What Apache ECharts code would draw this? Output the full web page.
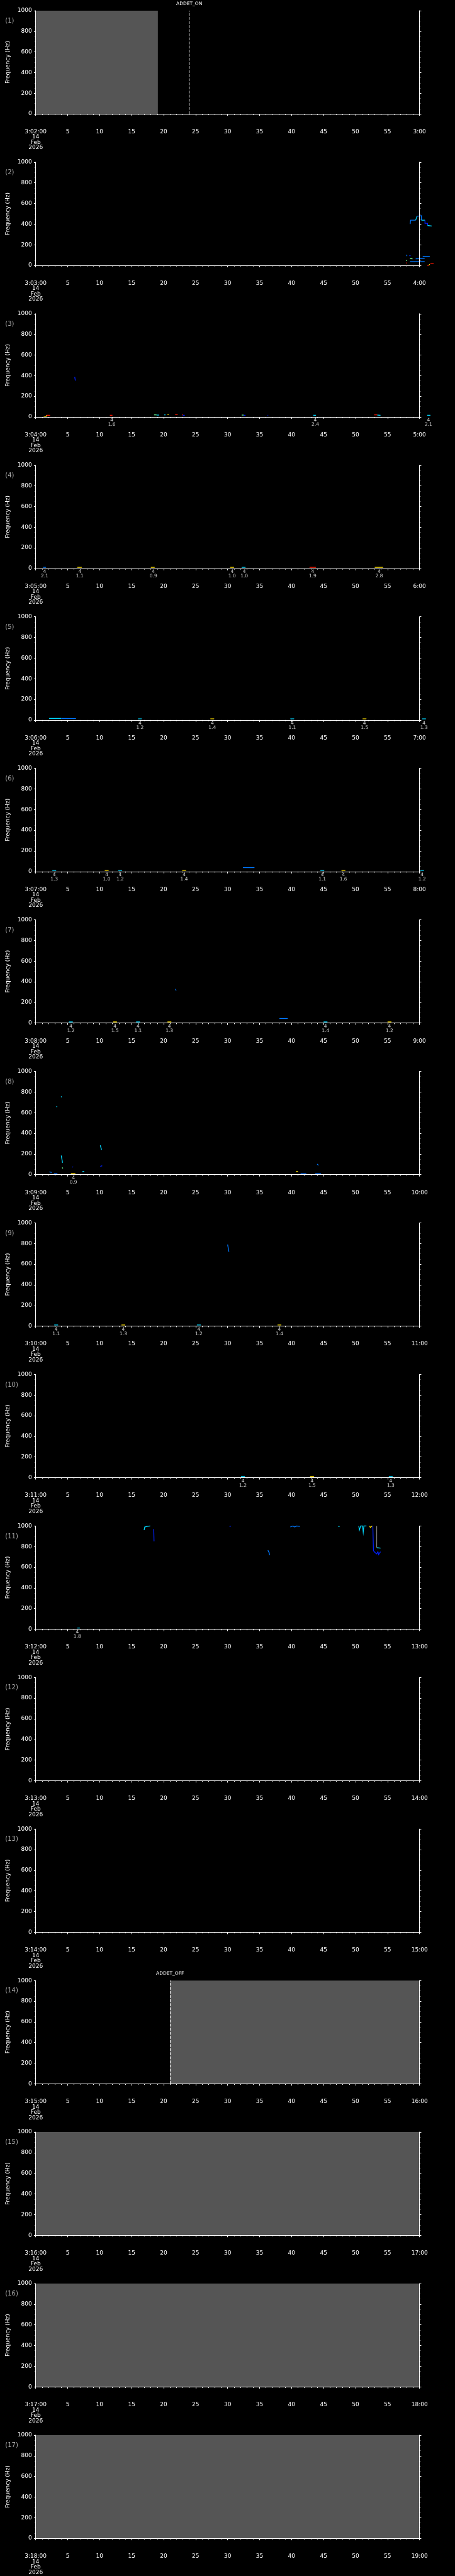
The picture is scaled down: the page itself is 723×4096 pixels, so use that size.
<!DOCTYPE html>
<html>
<head>
<meta charset="utf-8">
<script src="https://cdn.jsdelivr.net/npm/echarts@6/dist/echarts.min.js"></script>
<style>
  html, body { margin: 0; padding: 0; background: #000; }
  #chart { width: 723px; height: 4096px; }
</style>
</head>
<body>
<div id="chart"></div>
<script>
// each panel is one minute, starting at 03:MM:00 on 14 Feb 2026
const panelMinutes = [2, 3, 4, 5, 6, 7, 8, 9, 10, 11, 12, 13, 14, 15, 16, 17, 18];
const yTicks = [0, 200, 400, 600, 800, 1000];

// grey (no data) spans: [panel, fromSec, toSec]
const greySpans = [[1, 0, 19.1], [14, 21.0, 60], [15, 0, 60], [16, 0, 60], [17, 0, 60]];
// event markers: [panel, sec, text]
const eventMarks = [[1, 24.0, 'ADDET_ON'], [14, 21.0, 'ADDET_OFF']];

// stroke = [level, t0, f0, t1, f1, ...]  (level = colour index of the trace)
const p2Strokes = [
  [1, 58.54, 401, 58.6, 438, 59.4, 438], [2, 59.4, 438, 59.6, 476], [1, 59.6, 476, 60.3, 481, 60.3, 438],
  [2, 60.3, 438, 60.85, 438], [0, 60.85, 438, 60.85, 408, 61.25, 408, 61.25, 387], [2, 61.25, 387, 61.9, 382],
  [1, 57.95, 103, 58.05, 90], [0, 58.4, 94, 58.6, 94], [1, 60.5, 88, 61.6, 88],
  [3, 58.5, 66, 58.9, 64], [1, 59.4, 64, 60.8, 66], [3, 57.9, 46, 58.05, 50],
  [1, 58.5, 37, 60.8, 37], [5, 57.9, 24, 58.05, 24], [5, 61.2, 1, 61.45, 1], [4, 61.45, 1, 61.6, 12],
  [5, 61.7, 16, 62.2, 16]
];
const p3Strokes = [
  [4, 1.25, 0, 1.6, 0, 1.7, 16], [5, 1.7, 16, 2.25, 16], [0, 6.1, 388, 6.2, 352], [5, 11.6, 16, 12.0, 16],
  [3, 18.5, 20, 18.9, 20], [2, 18.9, 18, 19.3, 18], [2, 20.1, 20, 20.3, 20], [4, 20.6, 24, 20.8, 24],
  [5, 21.8, 24, 22.2, 24], [5, 22.9, 24, 23.0, 16], [0, 23.0, 16, 23.3, 16], [3, 32.2, 18, 32.5, 18],
  [0, 32.5, 16, 32.8, 16], [0, 36.25, 16, 36.35, 16], [2, 43.4, 16, 43.8, 16], [5, 52.9, 20, 53.4, 20],
  [2, 53.4, 18, 53.9, 16], [2, 61.2, 16, 61.7, 16]
];
const p4Strokes = [
  [1, 1.15, 11, 1.6, 11], [4, 6.5, 11, 7.2, 11], [4, 18.0, 11, 18.6, 11], [4, 30.4, 11, 31.0, 11],
  [2, 32.2, 11, 32.8, 11], [5, 42.8, 11, 43.8, 11], [4, 53.0, 11, 54.3, 11]
];
const p5Strokes = [
  [2, 2.1, 15, 4.0, 15], [1, 4.0, 15, 6.3, 14], [2, 16.0, 11, 16.6, 11], [4, 27.3, 11, 27.9, 11],
  [2, 39.8, 11, 40.4, 11], [4, 51.1, 11, 51.7, 11], [2, 60.4, 11, 61.0, 11]
];
const p6Strokes = [
  [2, 2.6, 11, 3.2, 11], [4, 10.8, 11, 11.4, 11], [2, 12.9, 11, 13.5, 11], [4, 22.9, 11, 23.5, 11],
  [1, 32.4, 38, 34.2, 38], [2, 44.5, 11, 45.1, 11], [4, 47.8, 11, 48.4, 11], [2, 60.1, 11, 60.7, 11]
];
const p7Strokes = [
  [2, 5.2, 11, 5.8, 11], [4, 12.1, 11, 12.7, 11], [2, 15.7, 11, 16.3, 11], [4, 20.6, 11, 21.2, 11],
  [1, 21.85, 330, 21.95, 315], [1, 38.1, 44, 39.4, 44], [2, 45.0, 11, 45.6, 11], [4, 55.0, 11, 55.6, 11]
];
const p8Strokes = [
  [1, 2.15, 26, 2.5, 20], [1, 2.85, 9, 3.4, 9], [2, 3.25, 661, 3.35, 655], [2, 3.98, 757, 4.05, 750],
  [2, 4.0, 184, 4.2, 115], [3, 4.15, 69, 4.25, 59], [0, 5.75, 76, 5.85, 72], [4, 5.5, 11, 6.2, 11],
  [2, 7.3, 30, 7.6, 30], [2, 10.1, 284, 10.3, 239], [0, 10.1, 80, 10.4, 86], [4, 40.7, 30, 41.0, 30],
  [1, 41.4, 9, 42.3, 9], [1, 43.7, 10, 44.6, 10], [1, 44.0, 102, 44.2, 89]
];
const p9Strokes = [
  [2, 2.9, 11, 3.5, 11], [4, 13.4, 11, 14.0, 11], [2, 25.2, 11, 25.8, 11], [1, 30.0, 790, 30.2, 720],
  [4, 37.8, 11, 38.4, 11]
];
const p10Strokes = [[2, 32.1, 11, 32.7, 11], [4, 42.9, 11, 43.5, 11], [2, 55.2, 11, 55.8, 11]];
const p11Strokes = [
  [2, 16.95, 960, 17.05, 990, 17.4, 995, 17.9, 1000], [0, 18.45, 970, 18.5, 852], [0, 30.3, 995, 30.5, 998],
  [1, 36.3, 764, 36.5, 740, 36.55, 717], [1, 39.8, 990, 40.2, 1000, 40.5, 990, 40.8, 1000, 41.3, 995],
  [2, 47.3, 995, 47.5, 995], [2, 50.5, 1000, 50.6, 960, 50.8, 1000, 51.1, 1000, 51.2, 940, 51.3, 1000, 51.7, 1000],
  [4, 52.2, 1000, 52.3, 985, 52.6, 1000], [0, 52.7, 1000, 52.8, 760, 53.0, 745, 53.3, 730, 53.5, 750, 53.6, 722, 53.9, 750],
  [6, 53.3, 1000, 53.3, 790], [2, 53.35, 790, 53.9, 785], [2, 6.5, 11, 6.9, 11]
];

// notes under the traces: [sec, line1, line2]
const p3Notes = [[11.9, '4', '1.6'], [43.7, '4', '2.4'], [61.4, '4', '2.1']];
const p4Notes = [[1.4, '4', '2.1'], [6.9, '4', '1.1'], [18.4, '4', '0.9'], [30.7, '4', '1.0'], [32.6, '4', '1.0'], [43.3, '4', '1.9'], [53.7, '4', '2.8']];
const p5Notes = [[16.3, '4', '1.2'], [27.6, '4', '1.4'], [40.1, '4', '1.1'], [51.4, '4', '1.5'], [60.7, '4', '1.3']];
const p6Notes = [[2.9, '4', '1.3'], [11.1, '4', '1.0'], [13.2, '4', '1.2'], [23.2, '4', '1.4'], [44.8, '4', '1.1'], [48.1, '4', '1.6'], [60.4, '4', '1.2']];
const p7Notes = [[5.5, '4', '1.2'], [12.4, '4', '1.5'], [16.0, '4', '1.1'], [20.9, '4', '1.3'], [45.3, '4', '1.4'], [55.3, '4', '1.2']];
const p8Notes = [[5.9, '4', '0.9']];
const p9Notes = [[3.2, '4', '1.1'], [13.7, '4', '1.3'], [25.5, '4', '1.2'], [38.1, '4', '1.4']];
const p10Notes = [[32.4, '4', '1.2'], [43.2, '4', '1.5'], [55.5, '4', '1.3']];
const p11Notes = [[6.5, '4', '1.8']];

const panelStrokes = [[], p2Strokes, p3Strokes, p4Strokes, p5Strokes, p6Strokes, p7Strokes, p8Strokes, p9Strokes, p10Strokes, p11Strokes, [], [], [], [], [], []];
const panelNotes = [[], [], p3Notes, p4Notes, p5Notes, p6Notes, p7Notes, p8Notes, p9Notes, p10Notes, p11Notes, [], [], [], [], [], []];

const levelColors = ['#0020ff', '#0078ff', '#00d8ff', '#70ff90', '#ffe000', '#ff1800', '#808080'];

const S = 4096 / 5802;
const PH = 4096 / 17;
const px = v => v * S;
const FONT = 'DejaVu Sans';

const grids = [], xAxes = [], yAxes = [], series = [], graphics = [];

panelMinutes.forEach((mm, i) => {
  const n = i + 1;
  grids.push({ left: px(80.3), top: i * PH + px(24), width: px(864), height: px(232.5), outerBoundsMode: 'none' });

  xAxes.push({
    type: 'value', gridIndex: i, min: 0, max: 60, interval: 5, offset: px(24.5), z: 10,
    axisLine: { lineStyle: { color: '#fff', width: 1 } },
    axisTick: { length: 3, lineStyle: { color: '#fff' } },
    minorTick: { show: true, splitNumber: 5, length: 1.7, lineStyle: { color: '#fff' } },
    splitLine: { show: false },
    axisLabel: {
      color: '#fff', fontFamily: FONT, fontSize: 9, lineHeight: 8.5, margin: 7,
      showMinLabel: true, showMaxLabel: true,
      formatter: v => {
        if (v === 0) return '3:' + String(mm).padStart(2, '0') + ':00\n14\nFeb\n2026';
        if (v === 60) return (mm + 1) + ':00';
        return String(v);
      }
    }
  });

  const yCommon = {
    type: 'value', gridIndex: i, min: 0, max: 1000, interval: 200, z: 10,
    axisLine: { show: true, lineStyle: { color: '#fff', width: 1 } },
    axisTick: { show: true, length: 2.8, lineStyle: { color: '#fff' } },
    minorTick: { show: true, splitNumber: 4, length: 1.4, lineStyle: { color: '#fff' } },
    splitLine: { show: false }
  };
  yAxes.push(Object.assign({}, yCommon, {
    position: 'left',
    name: 'Frequency (Hz)', nameLocation: 'middle', nameGap: 36,
    nameTextStyle: { color: '#fff', fontFamily: FONT, fontSize: 9 },
    axisLabel: { color: '#fff', fontFamily: FONT, fontSize: 9, margin: 6, formatter: v => String(v) }
  }));
  yAxes.push(Object.assign({}, yCommon, { position: 'right', axisLabel: { show: false } }));

  const yi = 2 * i;
  // host for grey spans and event markers
  series.push({
    type: 'line', xAxisIndex: i, yAxisIndex: yi, data: [], silent: true, animation: false,
    markArea: {
      silent: true, itemStyle: { color: '#555555' },
      data: greySpans.filter(g => g[0] === n).map(g => [{ xAxis: g[1] }, { xAxis: g[2] }])
    },
    markLine: {
      silent: true, symbol: 'none', animation: false,
      lineStyle: { color: '#fff', width: 1, type: [4.5, 2] },
      label: { show: true, position: 'end', distance: 7, color: '#fff', fontFamily: FONT, fontSize: 7.5, formatter: '{b}' },
      data: eventMarks.filter(m => m[0] === n).map(m => ({ xAxis: m[1], name: m[2] }))
    }
  });

  series.push({
    type: 'lines', coordinateSystem: 'cartesian2d', xAxisIndex: i, yAxisIndex: yi,
    polyline: true, clip: false, silent: true, animation: false,
    lineStyle: { width: 1.3, opacity: 1 },
    data: panelStrokes[i].map(s => {
      const pts = [];
      for (let k = 1; k < s.length; k += 2) pts.push([s[k], s[k + 1]]);
      return { coords: pts, lineStyle: { color: levelColors[s[0]] } };
    })
  });

  series.push({
    type: 'scatter', xAxisIndex: i, yAxisIndex: yi, clip: false, silent: true, animation: false,
    symbol: 'circle', symbolSize: 1, itemStyle: { color: 'rgba(0,0,0,0)' },
    label: {
      show: true, position: 'bottom', distance: 1, color: '#fff', fontFamily: FONT, fontSize: 7.5, lineHeight: 7,
      formatter: p => p.data.text
    },
    data: panelNotes[i].map(nt => ({ value: [nt[0], 0], text: nt[1] + '\n' + nt[2] }))
  });

  graphics.push({
    type: 'text', x: px(11.7), y: i * PH + px(47.5), silent: true,
    style: { text: '(' + n + ')', fill: '#a8a8a8', fontFamily: FONT, fontSize: 10, verticalAlign: 'middle' }
  });
});

const chart = echarts.init(document.getElementById('chart'), null, { renderer: 'canvas' });
chart.setOption({
  backgroundColor: '#000',
  animation: false,
  grid: grids,
  xAxis: xAxes,
  yAxis: yAxes,
  series: series,
  graphic: graphics
});
</script>
</body>
</html>
